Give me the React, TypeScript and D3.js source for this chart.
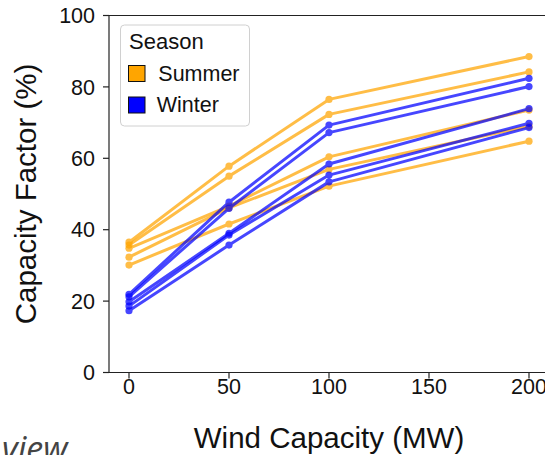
import React from "react";
import * as d3 from "d3";

const capacities = [0, 50, 100, 200];
const seasons = ["Summer", "Winter"];
const seasonColors = ["#FFA500", "#0000FF"];

const summer1 = [36.5, 57.8, 76.5, 88.5];
const summer2 = [35.7, 55.0, 72.3, 84.2];
const summer3 = [34.8, 46.6, 60.4, 73.5];
const summer4 = [32.3, 46.1, 56.9, 69.0];
const summer5 = [30.1, 41.6, 52.2, 64.8];

const winter1 = [21.9, 47.7, 69.3, 82.4];
const winter2 = [21.2, 46.0, 67.2, 80.1];
const winter3 = [19.8, 39.0, 58.4, 73.9];
const winter4 = [18.6, 38.5, 55.3, 69.8];
const winter5 = [17.3, 35.7, 53.4, 68.6];

const xTicks = [0, 50, 100, 150, 200];
const yTicks = [0, 20, 40, 60, 80, 100];

const series = [
  { season: "Summer", values: summer1 },
  { season: "Summer", values: summer2 },
  { season: "Summer", values: summer3 },
  { season: "Summer", values: summer4 },
  { season: "Summer", values: summer5 },
  { season: "Winter", values: winter1 },
  { season: "Winter", values: winter2 },
  { season: "Winter", values: winter3 },
  { season: "Winter", values: winter4 },
  { season: "Winter", values: winter5 },
];

export default function App() {
  const W = 545;
  const H = 455;
  const font = "'Liberation Sans', Arial, sans-serif";
  const x = d3.scaleLinear().domain([-10, 210]).range([109, 549]);
  const y = d3.scaleLinear().domain([0, 100]).range([372.5, 15.5]);
  const color = d3.scaleOrdinal<string, string>().domain(seasons).range(seasonColors);
  const line = d3
    .line<number>()
    .x((_, i) => x(capacities[i]))
    .y((d) => y(d));

  return (
    <svg
      width={W}
      height={H}
      style={{ position: "absolute", left: 0, top: 0, background: "#fff" }}
      fontFamily={font}
    >
      <rect x={0} y={0} width={W} height={H} fill="#fff" />
      {/* series */}
      {series.map((s, k) => (
        <g key={k} opacity={0.72}>
          <path d={line(s.values) || ""} fill="none" stroke={color(s.season)} strokeWidth={3} strokeLinejoin="round" />
          {s.values.map((v, i) => (
            <circle key={i} cx={x(capacities[i])} cy={y(v)} r={3.6} fill={color(s.season)} />
          ))}
        </g>
      ))}
      {/* spines */}
      <line x1={109} x2={109} y1={15.5} y2={372.5} stroke="#222" strokeWidth={1.2} />
      <line x1={109} x2={549} y1={372.5} y2={372.5} stroke="#222" strokeWidth={1.2} />
      <line x1={109} x2={549} y1={15.5} y2={15.5} stroke="#222" strokeWidth={1.2} />
      {/* x ticks */}
      {xTicks.map((t) => (
        <g key={t}>
          <line x1={x(t)} x2={x(t)} y1={372.5} y2={378.5} stroke="#222" strokeWidth={1.2} />
          <text x={x(t)} y={394} textAnchor="middle" fontSize={21.5} fill="#111">
            {t}
          </text>
        </g>
      ))}
      {/* y ticks */}
      {yTicks.map((t) => (
        <g key={t}>
          <line x1={103} x2={109} y1={y(t)} y2={y(t)} stroke="#222" strokeWidth={1.2} />
          <text x={95} y={y(t)} dy="0.36em" textAnchor="end" fontSize={21.5} fill="#111">
            {t}
          </text>
        </g>
      ))}
      {/* axis labels */}
      <text x={329} y={448} textAnchor="middle" fontSize={29.5} fill="#111">
        Wind Capacity (MW)
      </text>
      <text
        transform={`translate(36,${(15.5 + 372.5) / 2}) rotate(-90)`}
        textAnchor="middle"
        fontSize={29.5}
        fill="#111"
      >
        Capacity Factor (%)
      </text>
      {/* legend */}
      <rect x={120.5} y={25} width={129} height={101} rx={4} fill="#fff" fillOpacity={0.85} stroke="#d0d0d0" strokeWidth={1} />
      <text x={129} y={48.5} fontSize={22} fill="#111">
        Season
      </text>
      {seasons.map((s, i) => (
        <g key={s}>
          <rect x={128.5} y={65.5 + i * 31.5} width={16.5} height={16} fill={color(s)} stroke="#111" strokeWidth={1} />
          <text x={i === 0 ? 158.3 : 156.7} y={81 + i * 31} fontSize={21.5} fill="#111">
            {s}
          </text>
        </g>
      ))}
      {/* partial caption fragment at bottom-left */}
      <text x={2} y={461} fontSize={34} fontStyle="italic" fontFamily="'Open Sans', sans-serif" fill="#444">
        view
      </text>
    </svg>
  );
}
